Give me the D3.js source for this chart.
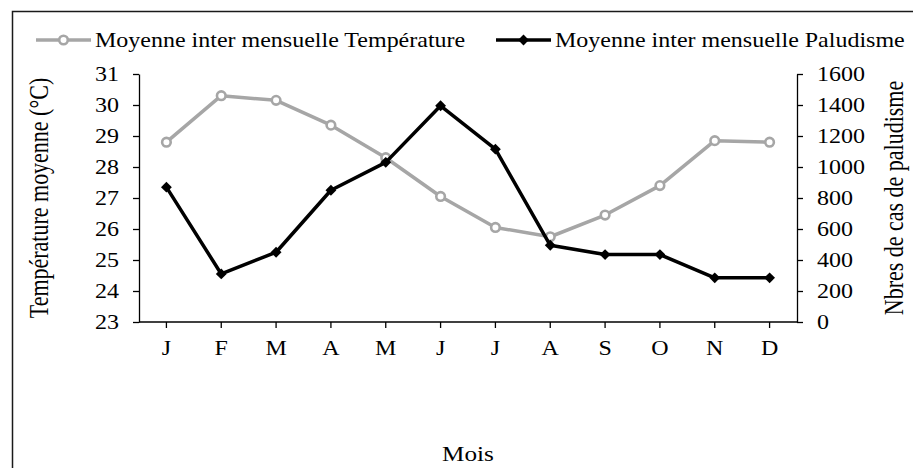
<!DOCTYPE html>
<html>
<head>
<meta charset="utf-8">
<script src="https://cdn.jsdelivr.net/npm/d3@7"></script>
<style>
  body { margin: 0; background: #fff; }
  svg text { font-family: "Liberation Serif", "Times New Roman", serif; fill: #000; }
</style>
</head>
<body>
<svg id="chart" width="913" height="468"></svg>
<script>
var mois = ["J", "F", "M", "A", "M", "J", "J", "A", "S", "O", "N", "D"];
var temperature = [28.8, 30.3, 30.15, 29.35, 28.3, 27.05, 26.05, 25.75, 26.45, 27.4, 28.85, 28.8];
var paludisme = [870, 310, 450, 850, 1030, 1395, 1115, 495, 435, 435, 285, 285];
var tempTicks = [23, 24, 25, 26, 27, 28, 29, 30, 31];
var palTicks = [0, 200, 400, 600, 800, 1000, 1200, 1400, 1600];

var svg = d3.select("#chart"),
    width = +svg.attr("width"),
    height = +svg.attr("height");

var margin = {left: 139, right: 116, top: 74, bottom: 146};
var sx = 1.2; // the original text is a bit wider than it is tall
var fontFam = "'Liberation Serif', 'Times New Roman', serif";

// outer frame (only left and top edges show in the crop)
svg.append("path")
    .attr("d", "M12.5," + height + "V11.5H" + width)
    .attr("fill", "none")
    .attr("stroke", "#1a1a1a")
    .attr("stroke-width", 1.5);

var x = d3.scaleBand()
    .domain(d3.range(mois.length))
    .range([margin.left, width - margin.right]);

var yT = d3.scaleLinear().domain([23, 31]).range([height - margin.bottom, margin.top]);
var yP = d3.scaleLinear().domain([0, 1600]).range([height - margin.bottom, margin.top]);

function cx(i) { return x(i) + x.bandwidth() / 2; }

function styleAxis(g) {
  g.attr("font-family", fontFam).attr("font-size", 20);
  g.select(".domain").attr("stroke", "#000").attr("stroke-width", 1.3);
  g.selectAll(".tick line").attr("stroke", "#000").attr("stroke-width", 1.3);
  g.selectAll(".tick text")
      .attr("x", function() { return (+d3.select(this).attr("x") || 0) / sx; })
      .attr("transform", "scale(" + sx + ",1)");
}

// x axis
var xAxis = svg.append("g")
    .attr("transform", "translate(0," + (height - margin.bottom) + ")")
    .call(d3.axisBottom(x).tickSize(6).tickPadding(13).tickFormat(function(i) { return mois[i]; }));
styleAxis(xAxis);
xAxis.select(".domain").attr("d", "M" + margin.left + ",0H" + (width - margin.right));

// left axis
var yAxisL = svg.append("g")
    .attr("transform", "translate(" + margin.left + ",0)")
    .call(d3.axisLeft(yT).tickValues(tempTicks).tickSize(6).tickSizeOuter(0).tickPadding(14));
styleAxis(yAxisL);

// right axis
var yAxisR = svg.append("g")
    .attr("transform", "translate(" + (width - margin.right) + ",0)")
    .call(d3.axisRight(yP).tickValues(palTicks).tickFormat(d3.format("d")).tickSize(6).tickSizeOuter(0).tickPadding(14));
styleAxis(yAxisR);

// temperature line
var lineT = d3.line()
    .x(function(d, i) { return cx(i); })
    .y(function(d) { return yT(d); });

svg.append("path")
    .datum(temperature)
    .attr("d", lineT)
    .attr("fill", "none")
    .attr("stroke", "#a6a6a6")
    .attr("stroke-width", 3.5)
    .attr("stroke-linejoin", "round");

svg.selectAll(".ptT")
    .data(temperature)
    .enter().append("circle")
      .attr("class", "ptT")
      .attr("cx", function(d, i) { return cx(i); })
      .attr("cy", function(d) { return yT(d); })
      .attr("r", 4.3)
      .attr("fill", "#fff")
      .attr("stroke", "#a6a6a6")
      .attr("stroke-width", 2.6);

// paludisme line
var lineP = d3.line()
    .x(function(d, i) { return cx(i); })
    .y(function(d) { return yP(d); });

svg.append("path")
    .datum(paludisme)
    .attr("d", lineP)
    .attr("fill", "none")
    .attr("stroke", "#000")
    .attr("stroke-width", 3.5)
    .attr("stroke-linejoin", "round");

var diamond = d3.symbol().type(d3.symbolDiamond2).size(75);

svg.selectAll(".ptP")
    .data(paludisme)
    .enter().append("path")
      .attr("class", "ptP")
      .attr("d", diamond)
      .attr("transform", function(d, i) { return "translate(" + cx(i) + "," + yP(d) + ")"; })
      .attr("fill", "#000");

// axis titles
var midY = (margin.top + height - margin.bottom) / 2;
svg.append("text")
    .attr("transform", "translate(48," + midY + ") scale(" + sx + ",1) rotate(-90)")
    .attr("text-anchor", "middle")
    .style("font-size", "22px")
    .text("Température moyenne (°C)");

svg.append("text")
    .attr("transform", "translate(903," + midY + ") scale(" + sx + ",1) rotate(-90)")
    .attr("text-anchor", "middle")
    .style("font-size", "22px")
    .text("Nbres de cas de paludisme");

svg.append("text")
    .attr("transform", "translate(" + ((margin.left + width - margin.right) / 2) + ",461) scale(" + sx + ",1)")
    .attr("text-anchor", "middle")
    .style("font-size", "21px")
    .text("Mois");

// legend
var legend = [
  {name: "Moyenne inter mensuelle Température", x: 36, color: "#a6a6a6", type: "circle"},
  {name: "Moyenne inter mensuelle Paludisme", x: 496, color: "#000", type: "diamond"}
];
var ly = 40;
legend.forEach(function(l) {
  svg.append("line")
      .attr("x1", l.x).attr("x2", l.x + 55)
      .attr("y1", ly).attr("y2", ly)
      .attr("stroke", l.color)
      .attr("stroke-width", 3.5);
  if (l.type == "circle") {
    svg.append("circle")
        .attr("cx", l.x + 27.5).attr("cy", ly).attr("r", 4.3)
        .attr("fill", "#fff").attr("stroke", l.color).attr("stroke-width", 2.6);
  } else {
    svg.append("path")
        .attr("d", diamond)
        .attr("transform", "translate(" + (l.x + 27.5) + "," + ly + ")")
        .attr("fill", l.color);
  }
  svg.append("text")
      .attr("transform", "translate(" + (l.x + 59) + "," + (ly + 7) + ") scale(" + sx + ",1)")
      .style("font-size", "20px")
      .text(l.name);
});
</script>
</body>
</html>
